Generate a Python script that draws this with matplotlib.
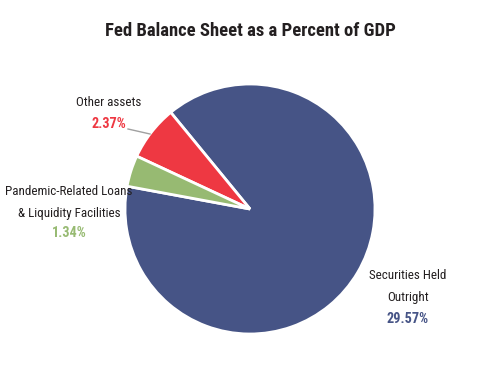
import matplotlib.pyplot as plt

labels = ['Securities Held\nOutright', 'Other assets', 'Pandemic-Related Loans\n& Liquidity Facilities']
values = [29.57, 2.37, 1.34]
colors = ['#465486', '#EE3842', '#97BA72']

plt.rcParams['font.family'] = ['Roboto Condensed', 'DejaVu Sans']

fig = plt.figure(figsize=(5, 3.75), dpi=100)
fig.text(0.5, 1 - 31 / 375, 'Fed Balance Sheet as a Percent of GDP',
         ha='center', va='center', fontsize=13.4, fontweight='bold', color='#231F20')

ax = fig.add_axes([0.25, 1 - 209 / 375 - 125 / 375, 0.5, 250 / 375])
ax.pie(values, colors=colors, startangle=169.5, counterclock=True,
       wedgeprops=dict(edgecolor='white', linewidth=2))
ax.set_xlim(-1, 1)
ax.set_ylim(-1, 1)
ax.set_aspect('equal')
ax.axis('off')

# label positions (axes data units, pie radius = 1)
pos = [(1.264, -0.53), (-1.128, 0.85), (-1.448, 0.14)]
pct_off = [-0.35, -0.17, -0.33]
for lab, v, c, (x, y), d in zip(labels, values, colors, pos, pct_off):
    lines = lab.split('\n')
    for i, line in enumerate(lines):
        ax.text(x, y - i * 0.176, line, ha='center', va='center', fontsize=9.4,
                color='#231F20', clip_on=False)
    ax.text(x, y + d, f'{v:.2f}%', ha='center', va='center', fontsize=10.3,
            fontweight='bold', color=c, clip_on=False)

ax.plot([-0.976, -0.8], [0.64, 0.6], color='#A0A0A0', lw=1, clip_on=False)

fig.savefig('out.png', dpi=100, facecolor='white')
